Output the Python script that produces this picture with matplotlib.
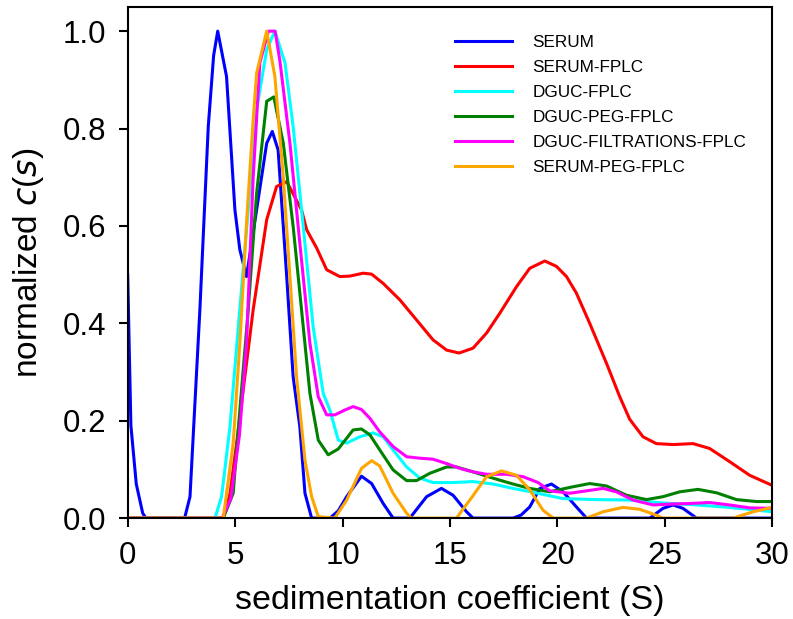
import numpy as np
import matplotlib
matplotlib.use('Agg')
import matplotlib.pyplot as plt

plt.rcParams['font.family'] = ['Liberation Sans', 'DejaVu Sans']

# sedimentation coefficient (S) and normalized c(s)
serum_x = [0, 0.15, 0.4, 0.7, 0.85, 2.65, 2.9, 3.36, 3.75, 4.0, 4.19, 4.6, 4.99, 5.22, 5.53,
           6.0, 6.47, 6.73, 7.0, 7.4, 7.7, 8.01, 8.25, 8.56, 9.41, 9.8, 10.19, 10.88, 11.35,
           11.89, 12.35, 13.13, 13.91, 14.6, 15.14, 15.77, 16.07, 17.93, 18.3, 18.71, 19.18,
           19.72, 20.26, 20.88, 21.35, 24.3, 24.91, 25.38, 25.84, 26.47, 30]
serum_y = [0.50, 0.19, 0.07, 0.01, 0, 0, 0.044, 0.428, 0.804, 0.95, 1.0, 0.907, 0.633, 0.551, 0.496,
           0.633, 0.77, 0.794, 0.756, 0.496, 0.29, 0.188, 0.051, 0, 0, 0.015, 0.044, 0.086, 0.071,
           0.03, 0, 0, 0.044, 0.061, 0.047, 0.013, 0, 0, 0.006, 0.023, 0.061,
           0.07, 0.054, 0.023, 0, 0, 0.02, 0.027, 0.02, 0, 0]

serum_fplc_x = [0, 4.45, 4.76, 5.07, 5.84, 6.47, 6.93, 7.4, 8.09, 8.33, 8.79, 9.26, 9.87, 10.34,
                10.96, 11.35, 11.89, 12.67, 13.44, 14.21, 14.84, 15.42, 16.07, 16.7, 17.32,
                18.09, 18.71, 19.41, 19.95, 20.42, 20.88, 21.5, 22.28, 22.9, 23.36, 23.98,
                24.6, 25.38, 26.31, 27.08, 28.01, 28.94, 30]
serum_fplc_y = [0, 0, 0.05, 0.154, 0.428, 0.613, 0.681, 0.691, 0.633, 0.592, 0.555, 0.51, 0.496, 0.497,
                0.503, 0.501, 0.482, 0.448, 0.407, 0.366, 0.345, 0.339, 0.349, 0.38, 0.421,
                0.475, 0.513, 0.528, 0.517, 0.496, 0.462, 0.40, 0.318, 0.249, 0.203, 0.167,
                0.153, 0.151, 0.153, 0.143, 0.116, 0.088, 0.067]

dguc_fplc_x = [0, 4.06, 4.37, 4.76, 5.22, 5.61, 6.0, 6.47, 6.85, 7.32, 7.7, 8.17, 8.63, 9.1, 9.41,
               9.8, 10.19, 10.8, 11.42, 11.89, 12.35, 12.98, 13.6, 14.21, 15.14, 16.07, 17.0,
               17.93, 18.87, 20.26, 21.81, 23.36, 24.91, 26.47, 28.01, 30]
dguc_fplc_y = [0, 0, 0.044, 0.188, 0.43, 0.633, 0.839, 0.962, 1.0, 0.935, 0.804, 0.599, 0.393, 0.256, 0.222,
               0.16, 0.154, 0.167, 0.175, 0.167, 0.14, 0.105, 0.082, 0.073, 0.073, 0.075, 0.07,
               0.061, 0.053, 0.04, 0.038, 0.037, 0.031, 0.027, 0.022, 0.013]

dguc_peg_x = [0, 4.45, 4.91, 5.22, 5.61, 6.0, 6.47, 6.8, 7.24, 7.7, 8.09, 8.48, 8.87, 9.33, 9.8,
              10.49, 10.88, 11.27, 11.73, 12.35, 12.98, 13.44, 14.06, 14.84, 15.3, 16.07, 17.0,
              17.93, 18.71, 19.64, 20.57, 21.5, 22.28, 23.21, 24.14, 24.91, 25.69, 26.54, 27.4,
              28.33, 29.26, 30]
dguc_peg_y = [0, 0, 0.051, 0.222, 0.428, 0.667, 0.856, 0.865, 0.77, 0.599, 0.428, 0.256, 0.16, 0.13, 0.142,
              0.181, 0.183, 0.171, 0.14, 0.099, 0.077, 0.077, 0.092, 0.105, 0.105, 0.095, 0.082,
              0.07, 0.061, 0.054, 0.063, 0.071, 0.066, 0.047, 0.038, 0.044, 0.054, 0.059, 0.052,
              0.038, 0.034, 0.034]

dguc_filt_x = [0, 4.4, 4.8, 5.2, 5.53, 5.84, 6.15, 6.55, 6.86, 7.08, 7.55, 8.01, 8.48, 8.87, 9.26,
               9.64, 10.11, 10.49, 10.88, 11.27, 11.73, 12.35, 12.98, 13.6, 14.21, 14.84, 15.46,
               16.07, 16.7, 17.63, 18.4, 19.1, 19.64, 20.57, 21.35, 22.12, 22.74, 23.52, 24.45,
               25.38, 26.15, 27.08, 28.01, 28.94, 30]
dguc_filt_y = [0, 0, 0.04, 0.17, 0.359, 0.70, 0.935, 1.0, 1.0, 0.94, 0.77, 0.565, 0.359, 0.249, 0.212,
               0.212, 0.222, 0.229, 0.223, 0.205, 0.177, 0.147, 0.126, 0.123, 0.121, 0.112, 0.102,
               0.095, 0.09, 0.09, 0.085, 0.073, 0.056, 0.051, 0.056, 0.061, 0.054, 0.037, 0.027,
               0.029, 0.03, 0.032, 0.027, 0.021, 0.02]

serum_peg_x = [0, 4.45, 4.91, 5.22, 5.53, 5.84, 6.0, 6.47, 6.85, 7.24, 7.55, 7.86, 8.25, 8.56, 8.87,
               9.64, 10.19, 10.88, 11.35, 11.73, 12.35, 12.98, 13.2, 15.3, 15.92, 16.7, 17.4,
               18.09, 18.71, 19.33, 19.8, 21.35, 22.12, 23.05, 23.83, 24.6, 24.9, 28.17, 29.1, 30]
serum_peg_y = [0, 0, 0.154, 0.359, 0.606, 0.818, 0.914, 1.0, 0.907, 0.70, 0.496, 0.29, 0.119, 0.044, 0.003,
               0, 0.037, 0.102, 0.118, 0.107, 0.051, 0.01, 0, 0, 0.037, 0.085, 0.097,
               0.088, 0.058, 0.016, 0, 0, 0.013, 0.022, 0.018, 0.006, 0, 0, 0.013, 0.022]

series = [
    ('SERUM', serum_x, serum_y, '#0000ff'),
    ('SERUM-FPLC', serum_fplc_x, serum_fplc_y, '#ff0000'),
    ('DGUC-FPLC', dguc_fplc_x, dguc_fplc_y, '#00ffff'),
    ('DGUC-PEG-FPLC', dguc_peg_x, dguc_peg_y, '#008000'),
    ('DGUC-FILTRATIONS-FPLC', dguc_filt_x, dguc_filt_y, '#ff00ff'),
    ('SERUM-PEG-FPLC', serum_peg_x, serum_peg_y, '#ffa500'),
]

fig = plt.figure(figsize=(7.93, 6.19), dpi=100)
ax = fig.add_axes([0.161, 0.163, 0.813, 0.826])

for name, xs, ys, col in series:
    ax.plot(xs, ys, color=col, lw=2.2, label=name)

ax.set_xlim(0, 30)
ax.set_ylim(0, 1.05)
ax.set_xticks([0, 5, 10, 15, 20, 25, 30])
ax.set_yticks([0.0, 0.2, 0.4, 0.6, 0.8, 1.0])
ax.yaxis.set_major_formatter(matplotlib.ticker.FormatStrFormatter('%.1f'))
ax.tick_params(direction='out', length=6.5, width=1.5, labelsize=22.5)
ax.tick_params(axis='x', pad=10)
ax.tick_params(axis='y', pad=9)
for s in ax.spines.values():
    s.set_linewidth(1.5)

ax.set_xlabel('sedimentation coefficient (S)', fontsize=24.5, labelpad=10)
ax.set_ylabel('normalized $\\it{c}$($\\it{s}$)', fontsize=24, labelpad=12)

ax.legend(loc='upper left', bbox_to_anchor=(0.4834, 0.974), frameon=False, fontsize=12.3,
          handlelength=3.33, handletextpad=1.23, labelspacing=0.58)

plt.savefig('out.png', dpi=100)
plt.close()
